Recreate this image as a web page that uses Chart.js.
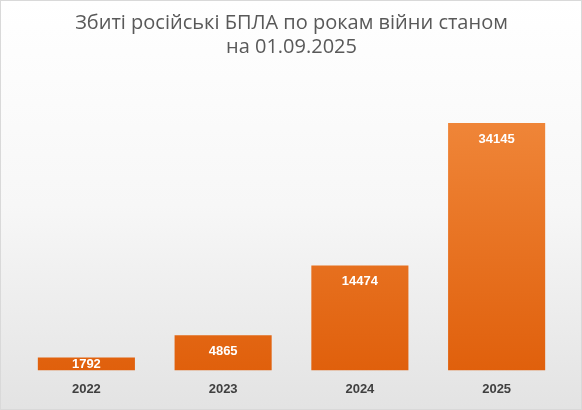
<!DOCTYPE html>
<html><head><meta charset="utf-8">
<script src="https://cdn.jsdelivr.net/npm/chart.js@4"></script>
<style>
html,body{margin:0;padding:0;}
#wrap{width:580px;height:408px;border:1px solid #d9d9d9;background:linear-gradient(#ffffff 0%,#f7f7f7 50%,#e3e3e3 100%);}
</style></head><body>
<div id="wrap"><canvas id="c" width="580" height="408"></canvas></div>
<script>
const categories=["2022","2023","2024","2025"];
const values=[1792,4865,14474,34145];
const titleLines=["Збиті російські БПЛА по рокам війни станом","на 01.09.2025"];
const labelsPlugin={id:'lbl',afterDatasetsDraw(chart){
  const ctx=chart.ctx;const meta=chart.getDatasetMeta(0);
  ctx.save();ctx.fillStyle='#fff';ctx.font='bold 13px "Liberation Sans", Arial';ctx.textAlign='center';ctx.textBaseline='middle';
  meta.data.forEach((b,i)=>{const h=b.base-b.y;const y=h<32?(b.y+b.base)/2+1:b.y+16;ctx.fillText(String(values[i]),b.x,y);});
  ctx.restore();}};
new Chart(document.getElementById('c'),{type:'bar',
 data:{labels:categories,datasets:[{data:values,
  backgroundColor(ctx){const ch=ctx.chart;const a=ch.chartArea;if(!a)return '#ea7a2b';
   const g=ch.ctx.createLinearGradient(0,a.top,0,a.bottom);g.addColorStop(0,'#f28c40');g.addColorStop(1,'#e0600c');return g;},
  barPercentage:0.71,categoryPercentage:1}]},
 options:{responsive:false,animation:false,
  layout:{padding:{left:17,right:16,top:0,bottom:9}},
  plugins:{legend:{display:false},tooltip:{enabled:false},
   title:{display:true,text:titleLines,color:'#595959',font:{family:'"Open Sans", Arial',size:20,weight:'normal'},lineHeight:1.5,padding:{top:10,bottom:18}}},
  scales:{x:{grid:{display:false},border:{display:false},ticks:{color:'#404040',font:{family:'"Liberation Sans", Arial',size:13,weight:'bold'}}},
   y:{display:false,min:0,max:40500}}},
 plugins:[labelsPlugin]});
</script></body></html>
